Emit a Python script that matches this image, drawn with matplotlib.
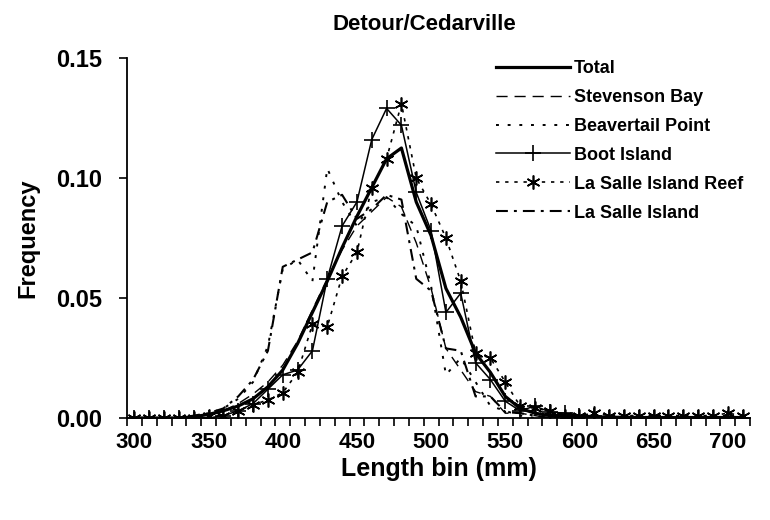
import matplotlib
matplotlib.use("Agg")
import matplotlib.pyplot as plt
import numpy as np

plt.rcParams['font.family'] = ['Liberation Sans', 'DejaVu Sans']
plt.rcParams['font.weight'] = 'bold'

bins = list(range(300, 720, 10))

total = [0, 0, 0, 0, 0.0005, 0.0015, 0.003, 0.005, 0.008, 0.013, 0.020, 0.031, 0.044, 0.057, 0.071,
         0.084, 0.096, 0.108, 0.1125, 0.090, 0.076, 0.054, 0.042, 0.027, 0.019, 0.009, 0.004,
         0.002, 0.001, 0.001, 0.0005, 0.0005, 0.0003, 0.0003, 0.0002, 0.0002, 0.0002, 0.0002,
         0.0002, 0.0002, 0.0002, 0.0002]
stevenson = [0, 0, 0, 0, 0, 0.001, 0.003, 0.006, 0.010, 0.015, 0.022, 0.032, 0.045, 0.058, 0.070,
             0.080, 0.086, 0.092, 0.088, 0.073, 0.054, 0.029, 0.020, 0.011, 0.009, 0.002, 0.002,
             0.001, 0, 0, 0, 0, 0, 0, 0, 0, 0, 0, 0, 0, 0, 0]
beavertail = [0, 0, 0, 0, 0, 0.002, 0.004, 0.008, 0.015, 0.030, 0.062, 0.066, 0.057, 0.104, 0.090,
              0.080, 0.090, 0.092, 0.085, 0.080, 0.055, 0.018, 0.025, 0.015, 0.005, 0.003, 0.001,
              0, 0, 0, 0, 0, 0, 0, 0, 0, 0, 0, 0, 0, 0, 0]
boot = [0, 0, 0, 0, 0, 0, 0.001, 0.003, 0.006, 0.012, 0.018, 0.020, 0.028, 0.058, 0.080,
        0.090, 0.116, 0.129, 0.122, 0.094, 0.078, 0.044, 0.052, 0.023, 0.016, 0.007, 0.003,
        0.005, 0.0025, 0.002, 0.001, 0.001, 0, 0, 0, 0, 0, 0, 0, 0, 0, 0]
lsreef = [0, 0, 0, 0, 0, 0.001, 0.001, 0.003, 0.0055, 0.0075, 0.0105, 0.019, 0.039, 0.038, 0.059,
          0.069, 0.096, 0.108, 0.131, 0.100, 0.089, 0.075, 0.057, 0.027, 0.025, 0.015, 0.005,
          0.004, 0.003, 0.001, 0.001, 0.002, 0.001, 0.001, 0.001, 0.001, 0.001, 0.001, 0.001,
          0.001, 0.002, 0.001]
lasalle = [0, 0, 0, 0, 0.001, 0.002, 0.004, 0.009, 0.016, 0.028, 0.063, 0.066, 0.069, 0.090, 0.093,
           0.083, 0.087, 0.093, 0.091, 0.058, 0.053, 0.029, 0.028, 0.009, 0.009, 0.0025, 0.002,
           0.001, 0, 0, 0, 0, 0, 0, 0, 0, 0, 0, 0, 0, 0, 0]

fig = plt.figure(figsize=(7.7, 5.2), dpi=100)
ax = fig.add_axes([127/770, 1-418/520, 623/770, 360/520])

ax.plot(bins, total, color='black', lw=2.3, label='Total')
ax.plot(bins, stevenson, color='black', lw=1.0, ls=(0, (8, 5)), label='Stevenson Bay')
ax.plot(bins, beavertail, color='black', lw=1.4, ls=(0, (1.5, 4.5)), label='Beavertail Point')
ax.plot(bins, boot, color='black', lw=1.1, marker='+', ms=11, mew=1.2, label='Boot Island')
ax.plot(bins, lsreef, color='black', lw=1.2, ls=(0, (2, 3.5)), marker=(6, 2, 0), ms=10, mew=1.2,
        label='La Salle Island Reef')
ax.plot(bins, lasalle, color='black', lw=1.5, ls=(0, (5.7, 2.9, 1.4, 2.9)), label='La Salle Island')

ax.set_xlim(295, 715)
ax.set_ylim(0, 0.15)
ax.set_xticks(range(300, 701, 50))
ax.set_xticks(np.arange(295, 716, 10), minor=True)
ax.tick_params(axis='x', which='major', length=0, pad=10, labelsize=16)
ax.tick_params(axis='x', which='minor', length=6, width=1.2, direction='out')
ax.set_yticks([0, 0.05, 0.10, 0.15])
ax.set_yticklabels(['0.00', '0.05', '0.10', '0.15'])
ax.tick_params(axis='y', length=6, width=1.2, direction='out', labelsize=17, pad=12)
for s in ['top', 'right']:
    ax.spines[s].set_visible(False)
for s in ['left', 'bottom']:
    ax.spines[s].set_linewidth(1.3)

ax.set_xlabel('Length bin (mm)', fontsize=18, fontweight='bold', labelpad=3)
ax.set_ylabel('Frequency', fontsize=17, fontweight='bold', labelpad=12)
ax.set_title('Detour/Cedarville', fontsize=16, fontweight='bold', pad=20, x=0.478)

leg = ax.legend(loc='upper left', bbox_to_anchor=(496/770, 1-60/520), bbox_transform=fig.transFigure,
                frameon=False, fontsize=13, handlelength=4.1, handletextpad=0.2, labelspacing=0.66,
                numpoints=1, borderpad=0, borderaxespad=0)
for t in leg.get_texts():
    t.set_fontweight('bold')

fig.savefig('out.png', dpi=100)
